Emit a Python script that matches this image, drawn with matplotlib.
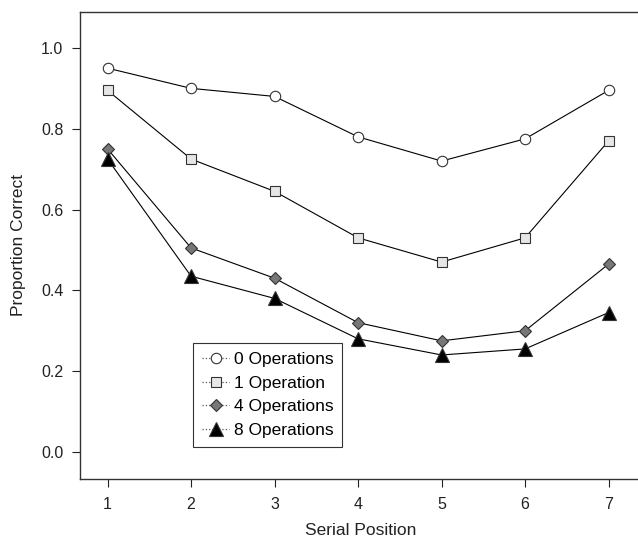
import matplotlib
matplotlib.use('Agg')
import matplotlib.pyplot as plt

plt.rcParams['font.family'] = ['Liberation Sans', 'DejaVu Sans']

positions = [1, 2, 3, 4, 5, 6, 7]
ops0 = [0.95, 0.90, 0.88, 0.78, 0.72, 0.775, 0.895]
ops1 = [0.895, 0.725, 0.645, 0.53, 0.47, 0.53, 0.77]
ops4 = [0.75, 0.505, 0.43, 0.32, 0.275, 0.30, 0.465]
ops8 = [0.725, 0.435, 0.38, 0.28, 0.24, 0.255, 0.345]
labels = ['0 Operations', '1 Operation', '4 Operations', '8 Operations']

fig = plt.figure(figsize=(6.38, 5.4), dpi=100)
ax = fig.add_axes([80/638, 1 - 479/540, 562/638, (479 - 12)/540])

styles = [
    (ops0, 'o', 'white', 7.5),
    (ops1, 's', '#e6e6e6', 7.5),
    (ops4, 'D', '#777777', 6.5),
    (ops8, '^', 'black', 9.5),
]
handles = []
for (vals, mk, fc, ms), lab in zip(styles, labels):
    ax.plot(positions, vals, color='black', lw=0.8, marker=mk, ms=ms,
            mfc=fc, mec='#333333', mew=0.8, zorder=3)
    h, = ax.plot([], [], color='#555555', lw=0.9, ls=':', marker=mk, ms=ms,
                 mfc=fc, mec='#333333', mew=0.8, label=lab)
    handles.append(h)

ax.set_xlim(0.67, 7.4)
ax.set_ylim(-0.067, 1.089)
ax.set_xticks(positions)
ax.set_yticks([0.0, 0.2, 0.4, 0.6, 0.8, 1.0])
ax.set_yticklabels(['0.0', '0.2', '0.4', '0.6', '0.8', '1.0'])
ax.tick_params(direction='out', length=6, width=0.8, labelsize=11.5, colors='#222222')
ax.tick_params(axis='y', pad=6)
ax.tick_params(axis='x', pad=7)
ax.set_xlabel('Serial Position', fontsize=12.5, color='#222222', labelpad=8)
ax.set_ylabel('Proportion Correct', fontsize=12.5, color='#222222', labelpad=11)
for s in ax.spines.values():
    s.set_linewidth(1.0)
    s.set_color('#333333')

leg = ax.legend(handles=handles, loc='upper left',
                bbox_to_anchor=(193/638, 1 - 343/540), bbox_transform=fig.transFigure,
                borderaxespad=0, fontsize=12.5, handlelength=1.6, handletextpad=0.25,
                labelspacing=0.5, borderpad=0.5, fancybox=False, framealpha=1)
leg.get_frame().set_edgecolor('#333333')
leg.get_frame().set_linewidth(0.8)

fig.savefig('out.png', dpi=100)
